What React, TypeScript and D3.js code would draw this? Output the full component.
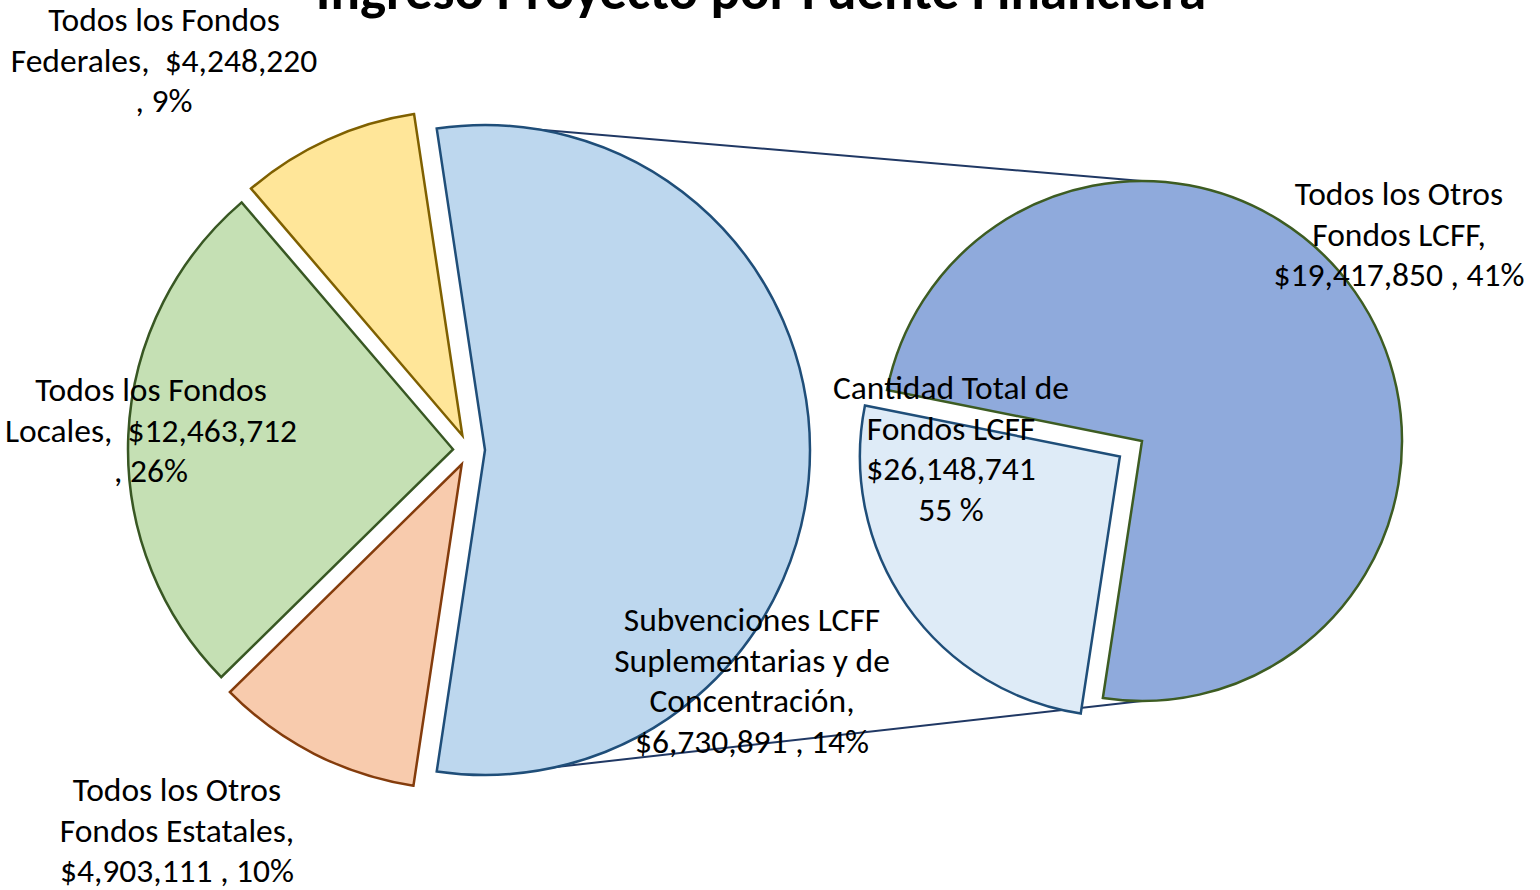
import React from "react";
import * as d3 from "d3";

// ---- data ----
const primaryNames = ["Cantidad Total de Fondos LCFF", "Todos los Otros Fondos Estatales", "Todos los Fondos Locales", "Todos los Fondos Federales"];
const primaryValues = [26148741, 4903111, 12463712, 4248220];
const secondaryNames = ["Subvenciones LCFF Suplementarias y de Concentración", "Todos los Otros Fondos LCFF"];
const secondaryValues = [6730891, 19417850];

const primaryLabels: string[][] = [
  ["Cantidad Total de", "Fondos LCFF", "$26,148,741", "55 %"],
  ["Todos los Otros", "Fondos Estatales,", "$4,903,111 , 10%"],
  ["Todos los Fondos", "Locales,  $12,463,712", ", 26%"],
  ["Todos los Fondos", "Federales,  $4,248,220", ", 9%"],
];
const secondaryLabels: string[][] = [
  ["Subvenciones LCFF", "Suplementarias y de", "Concentración,", "$6,730,891 , 14%"],
  ["Todos los Otros", "Fondos LCFF,", "$19,417,850 , 41%"],
];
const title = "Ingreso Proyecto por Fuente Financiera";

// ---- styling / layout ----
const primaryFill = ["#BDD7EE", "#F8CBAD", "#C5E0B4", "#FFE699"];
const primaryStroke = ["#1F4E79", "#843C0C", "#385723", "#7F6000"];
const secondaryFill = ["#DEEBF7", "#8FAADC"];
const secondaryStroke = ["#1F4E79", "#3D5C22"];
const primaryExplode = [16, 16, 16, 16];
const secondaryExplode = [27, 0];
const primaryLabelPos: [number, number][] = [[951, 388], [177, 790], [151, 390], [164, 20]];
const secondaryLabelPos: [number, number][] = [[752, 620], [1399, 194]];

const W = 1540, H = 890;
const c1: [number, number] = [469, 450];
const r1 = 325;
const c2: [number, number] = [1142, 441];
const r2 = 260;
const FONT = "Carlito, Calibri, Lato, 'Open Sans', sans-serif";
const FS = 33.5;
const LH = 40.5;

export default function App() {
  const total = d3.sum(primaryValues);
  const otherAngle = (2 * Math.PI * primaryValues[0]) / total;
  const start1 = Math.PI / 2 - otherAngle / 2;
  const pie1 = d3.pie<number>().sort(null).value((d) => d).startAngle(start1).endAngle(start1 + 2 * Math.PI);
  const arcs1 = pie1(primaryValues);

  const start2 = (188.66 * Math.PI) / 180;
  const pie2 = d3.pie<number>().sort(null).value((d) => d).startAngle(start2).endAngle(start2 + 2 * Math.PI);
  const arcs2 = pie2(secondaryValues);

  const arc1 = d3.arc<d3.PieArcDatum<number>>().innerRadius(0).outerRadius(r1);
  const arc2 = d3.arc<d3.PieArcDatum<number>>().innerRadius(0).outerRadius(r2);

  const offset = (a: d3.PieArcDatum<number>, e: number) => {
    const m = (a.startAngle + a.endAngle) / 2;
    return [e * Math.sin(m), -e * Math.cos(m)];
  };

  const o0 = offset(arcs1[0], primaryExplode[0]);
  const otherCenter = [c1[0] + o0[0], c1[1] + o0[1]];
  const lineTop = [otherCenter[0], otherCenter[1] - r1, c2[0], c2[1] - r2];
  const lineBot = [otherCenter[0], otherCenter[1] + r1, c2[0], c2[1] + r2];

  const renderLabel = (lines: string[], pos: [number, number], key: string) => (
    <text key={key} textAnchor="middle" fontFamily={FONT} fontSize={FS} fill="#000" style={{ whiteSpace: "pre" }}>
      {lines.map((l, i) => (
        <tspan key={i} x={pos[0]} y={pos[1] + i * LH + 11}>{l}</tspan>
      ))}
    </text>
  );

  return (
    <svg width={W} height={H} style={{ position: "absolute", left: 0, top: 0, background: "#fff" }}>
      <rect width={W} height={H} fill="#fff" />
      <text x={761} y={9} textAnchor="middle" fontFamily={FONT} fontSize={55} fontWeight="bold" fill="#000">{title}</text>
      <line x1={lineTop[0]} y1={lineTop[1]} x2={lineTop[2]} y2={lineTop[3]} stroke="#203864" strokeWidth={2} />
      <line x1={lineBot[0]} y1={lineBot[1]} x2={lineBot[2]} y2={lineBot[3]} stroke="#203864" strokeWidth={2} />
      <g>
        {arcs1.map((a, i) => {
          const o = offset(a, primaryExplode[i]);
          return (
            <path key={primaryNames[i]} d={arc1(a) || ""} transform={`translate(${c1[0] + o[0]},${c1[1] + o[1]})`}
              fill={primaryFill[i]} stroke={primaryStroke[i]} strokeWidth={2.5} strokeLinejoin="miter" />
          );
        })}
      </g>
      <g>
        {arcs2.map((a, i) => {
          const o = offset(a, secondaryExplode[i]);
          return (
            <path key={secondaryNames[i]} d={arc2(a) || ""} transform={`translate(${c2[0] + o[0]},${c2[1] + o[1]})`}
              fill={secondaryFill[i]} stroke={secondaryStroke[i]} strokeWidth={2.5} strokeLinejoin="miter" />
          );
        })}
      </g>
      {primaryLabels.map((l, i) => renderLabel(l, primaryLabelPos[i], "p" + i))}
      {secondaryLabels.map((l, i) => renderLabel(l, secondaryLabelPos[i], "s" + i))}
    </svg>
  );
}
